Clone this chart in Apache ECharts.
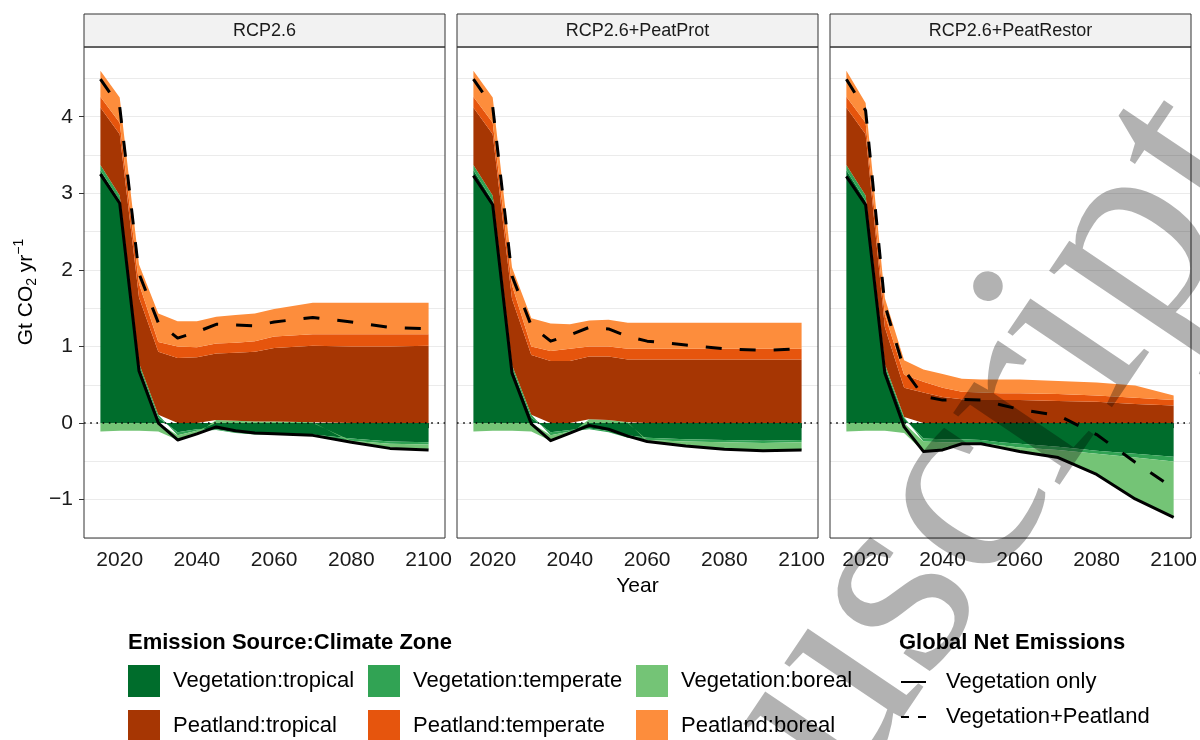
<!DOCTYPE html>
<html>
<head>
<meta charset="utf-8">
<script src="https://cdn.jsdelivr.net/npm/echarts@6/dist/echarts.min.js"></script>
<style>
html,body{margin:0;padding:0;background:#ffffff;}
#chart{width:1200px;height:740px;}
</style>
</head>
<body>
<div id="chart"></div>
<script>
// ---------------- data (Gt CO2 / yr) ----------------
const years = [2015, 2020, 2025, 2030, 2035, 2040, 2045, 2050, 2055, 2060, 2070, 2080, 2090, 2100];
const panelTitles = ['RCP2.6', 'RCP2.6+PeatProt', 'RCP2.6+PeatRestor'];
const layerNames = ['Vegetation:tropical', 'Vegetation:temperate', 'Vegetation:boreal',
                    'Peatland:tropical', 'Peatland:temperate', 'Peatland:boreal'];
const lineNames = ['Vegetation only', 'Vegetation+Peatland'];
const xTicks = [2020, 2040, 2060, 2080, 2100];
const yTicks = [-1, 0, 1, 2, 3, 4];

// Panel 1: RCP2.6
const vegTropical1  = [3.30, 2.90, 0.74, 0.07, -0.12, -0.08, -0.08, -0.12, -0.13, -0.13, -0.15, -0.20, -0.24, -0.25];
const vegTemperate1 = [0.07, 0.07, 0.04, 0.04, -0.04, -0.02, -0.01, -0.01, -0.02, -0.02, -0.02, -0.03, -0.03, -0.03];
const vegBoreal1    = [-0.11, -0.10, -0.10, -0.11, -0.06, -0.04, 0.04, 0.03, 0.02, 0.02, 0.01, -0.02, -0.05, -0.06];
const peatTropical1  = [0.75, 0.80, 0.86, 0.82, 0.85, 0.86, 0.87, 0.89, 0.91, 0.96, 1.00, 1.00, 1.00, 1.01];
const peatTemperate1 = [0.14, 0.15, 0.18, 0.13, 0.15, 0.13, 0.13, 0.13, 0.14, 0.15, 0.15, 0.16, 0.16, 0.15];
const peatBoreal1    = [0.34, 0.33, 0.25, 0.37, 0.33, 0.34, 0.35, 0.36, 0.36, 0.36, 0.41, 0.41, 0.41, 0.41];
const vegOnly1 = [3.25, 2.87, 0.68, 0.00, -0.22, -0.14, -0.05, -0.10, -0.13, -0.14, -0.16, -0.25, -0.33, -0.35];
const vegPeat1 = [4.49, 4.13, 1.95, 1.31, 1.11, 1.19, 1.29, 1.28, 1.27, 1.32, 1.38, 1.32, 1.25, 1.23];

// Panel 2: RCP2.6+PeatProt
const vegTropical2  = [3.30, 2.90, 0.72, 0.07, -0.12, -0.09, -0.07, -0.10, -0.16, -0.19, -0.21, -0.22, -0.23, -0.22];
const vegTemperate2 = [0.07, 0.07, 0.04, 0.04, -0.04, -0.02, -0.01, -0.02, -0.03, -0.03, -0.03, -0.03, -0.03, -0.03];
const vegBoreal2    = [-0.11, -0.10, -0.10, -0.11, -0.07, -0.03, 0.05, 0.04, 0.01, -0.02, -0.06, -0.09, -0.10, -0.10];
const peatTropical2  = [0.75, 0.80, 0.86, 0.78, 0.81, 0.81, 0.82, 0.83, 0.82, 0.83, 0.83, 0.83, 0.83, 0.83];
const peatTemperate2 = [0.14, 0.15, 0.18, 0.11, 0.13, 0.16, 0.13, 0.13, 0.14, 0.14, 0.14, 0.14, 0.14, 0.14];
const peatBoreal2    = [0.34, 0.33, 0.23, 0.37, 0.36, 0.32, 0.34, 0.35, 0.34, 0.34, 0.34, 0.34, 0.34, 0.34];
const vegOnly2 = [3.23, 2.85, 0.65, -0.01, -0.23, -0.13, -0.03, -0.08, -0.17, -0.24, -0.30, -0.34, -0.36, -0.35];
const vegPeat2 = [4.49, 4.13, 1.92, 1.27, 1.07, 1.15, 1.25, 1.23, 1.13, 1.07, 1.02, 0.97, 0.95, 0.97];

// Panel 3: RCP2.6+PeatRestor
const vegTropical3  = [3.30, 2.90, 0.73, 0.06, -0.20, -0.21, -0.21, -0.22, -0.25, -0.27, -0.31, -0.36, -0.40, -0.44];
const vegTemperate3 = [0.07, 0.07, 0.04, 0.02, -0.04, -0.04, -0.04, -0.04, -0.04, -0.05, -0.04, -0.04, -0.05, -0.06];
const vegBoreal3    = [-0.11, -0.10, -0.10, -0.13, -0.13, -0.10, -0.02, -0.01, -0.03, -0.05, -0.10, -0.27, -0.54, -0.73];
const peatTropical3  = [0.75, 0.80, 0.48, 0.38, 0.40, 0.34, 0.31, 0.30, 0.30, 0.30, 0.29, 0.28, 0.25, 0.23];
const peatTemperate3 = [0.14, 0.15, 0.16, 0.17, 0.14, 0.12, 0.10, 0.10, 0.09, 0.09, 0.09, 0.08, 0.08, 0.07];
const peatBoreal3    = [0.34, 0.26, 0.22, 0.19, 0.16, 0.18, 0.17, 0.17, 0.18, 0.18, 0.17, 0.17, 0.16, 0.06];
const vegOnly3 = [3.22, 2.85, 0.65, -0.05, -0.37, -0.35, -0.27, -0.27, -0.32, -0.37, -0.45, -0.67, -0.99, -1.23];
const vegPeat3 = [4.49, 4.08, 1.54, 0.70, 0.35, 0.30, 0.31, 0.30, 0.24, 0.18, 0.10, -0.15, -0.51, -0.85];

// ---------------- styling / layout ----------------
const layerColors = ['#006d2c', '#31a354', '#74c476', '#a63603', '#e6550d', '#fd8d3c'];
const FONT = '"Liberation Sans", Arial, Helvetica, sans-serif';
const panelLefts = [84, 457, 830];
const panelTop = 47, panelW = 361, panelH = 491;
const stripTop = 14, stripH = 33;

const panels = [
  { layers: [vegTropical1, vegTemperate1, vegBoreal1, peatTropical1, peatTemperate1, peatBoreal1], veg: vegOnly1, net: vegPeat1 },
  { layers: [vegTropical2, vegTemperate2, vegBoreal2, peatTropical2, peatTemperate2, peatBoreal2], veg: vegOnly2, net: vegPeat2 },
  { layers: [vegTropical3, vegTemperate3, vegBoreal3, peatTropical3, peatTemperate3, peatBoreal3], veg: vegOnly3, net: vegPeat3 }
];

const grid = [], xAxis = [], yAxis = [], series = [], graphic = [];

panels.forEach((p, i) => {
  grid.push({ left: panelLefts[i], top: panelTop, width: panelW, height: panelH, containLabel: false });
  xAxis.push({
    gridIndex: i, type: 'value', min: 2010.75, max: 2104.25,
    axisLine: { show: false }, splitLine: { show: false },
    axisTick: { show: true, length: 5, customValues: xTicks, lineStyle: { color: '#333333', width: 1 } },
    axisLabel: { customValues: xTicks, margin: 12, fontSize: 21, color: '#1a1a1a', fontFamily: FONT,
      formatter: v => String(Math.round(v)) },
    name: i === 1 ? 'Year' : '', nameLocation: 'middle', nameGap: 37,
    nameTextStyle: { fontSize: 21, color: '#000000', fontFamily: FONT }
  });
  // main value axis
  yAxis.push({
    gridIndex: i, type: 'value', min: -1.5, max: 4.91,
    axisLine: { show: false }, splitLine: { show: false },
    axisTick: { show: i === 0, length: 5, customValues: yTicks, lineStyle: { color: '#333333', width: 1 } },
    axisLabel: { show: i === 0, customValues: yTicks, margin: 11, fontSize: 21, color: '#1a1a1a', fontFamily: FONT,
      formatter: v => (v < 0 ? '\u2212' + Math.abs(v) : String(v)) }
  });
  // grid-line axis (major + minor horizontal lines)
  yAxis.push({
    gridIndex: i, type: 'value', min: -1.5, max: 4.91, interval: 0.5,
    axisLine: { show: false }, axisTick: { show: false }, axisLabel: { show: false },
    splitLine: { show: true, lineStyle: { color: '#ebebeb', width: 1 } }
  });

  p.layers.forEach((vals, j) => {
    const s = {
      type: 'line', name: layerNames[j], xAxisIndex: i, yAxisIndex: 2 * i,
      stack: 'panel' + i, stackStrategy: 'samesign',
      data: years.map((yr, k) => [vals[k], yr]),
      encode: { x: 1, y: 0 },
      symbol: 'none', showSymbol: false, color: layerColors[j],
      lineStyle: { width: 0 }, areaStyle: { color: layerColors[j], opacity: 1 },
      emphasis: { disabled: true }, silent: true, z: 2
    };
    if (j === layerNames.length - 1) {
      s.markLine = {
        silent: true, symbol: ['none', 'none'], label: { show: false }, z: 4,
        lineStyle: { color: '#000000', type: [1.6, 4.6], width: 1.6 },
        emphasis: { disabled: true },
        data: [{ yAxis: 0 }]
      };
    }
    series.push(s);
  });

  series.push({
    type: 'line', name: lineNames[0], xAxisIndex: i, yAxisIndex: 2 * i,
    data: years.map((yr, k) => [yr, p.veg[k]]),
    symbol: 'none', color: '#000000',
    lineStyle: { color: '#000000', width: 3, join: 'round' },
    emphasis: { disabled: true }, silent: true, z: 10
  });
  series.push({
    type: 'line', name: lineNames[1], xAxisIndex: i, yAxisIndex: 2 * i,
    data: years.map((yr, k) => [yr, p.net[k]]),
    symbol: 'none', color: '#000000',
    lineStyle: { color: '#000000', width: 3, type: [16, 18], join: 'round' },
    emphasis: { disabled: true }, silent: true, z: 10
  });

  // strip + panel border
  graphic.push({
    type: 'rect', silent: true, z: 100,
    shape: { x: panelLefts[i], y: stripTop, width: panelW, height: stripH },
    style: { fill: '#f2f2f2', stroke: '#333333', lineWidth: 1 }
  });
  graphic.push({
    type: 'text', silent: true, z: 101,
    style: { text: panelTitles[i], x: panelLefts[i] + panelW / 2, y: stripTop + stripH / 2 + 0.5,
      align: 'center', verticalAlign: 'middle', font: '18px ' + FONT, fill: '#1a1a1a' }
  });
  graphic.push({
    type: 'rect', silent: true, z: 100,
    shape: { x: panelLefts[i], y: panelTop, width: panelW, height: panelH },
    style: { fill: 'rgba(0,0,0,0)', stroke: '#333333', lineWidth: 1 }
  });
});

// axis title (y)
graphic.push({
  type: 'text', silent: true, z: 101, x: 26, y: 292, rotation: Math.PI / 2,
  style: {
    text: 'Gt CO{sub|2} yr{sup|\u22121}', align: 'center', verticalAlign: 'middle',
    font: '21px ' + FONT, fill: '#000000', lineHeight: 27,
    rich: {
      sub: { fontSize: 14, fontFamily: FONT, verticalAlign: 'bottom', lineHeight: 15, fill: '#000000' },
      sup: { fontSize: 14, fontFamily: FONT, verticalAlign: 'top', lineHeight: 15, fill: '#000000' }
    }
  }
});

// legend titles
graphic.push({
  type: 'text', silent: true, z: 101,
  style: { text: 'Emission Source:Climate Zone', x: 128, y: 643, align: 'left', verticalAlign: 'middle',
    font: 'bold 22px ' + FONT, fill: '#000000' }
});
graphic.push({
  type: 'text', silent: true, z: 101,
  style: { text: 'Global Net Emissions', x: 899, y: 643, align: 'left', verticalAlign: 'middle',
    font: 'bold 22px ' + FONT, fill: '#000000' }
});

// watermark
graphic.push({
  type: 'text', silent: true, z: 300, x: 1213, y: 126, rotation: 56 * Math.PI / 180,
  style: { text: 'manuscript', align: 'right', verticalAlign: 'middle',
    font: '280px "Liberation Serif", "Times New Roman", serif', fill: 'rgba(0,0,0,0.30)' }
});

const areaLegendCommon = {
  orient: 'vertical', top: 665, height: 120, padding: 0, itemWidth: 32, itemHeight: 32, itemGap: 13,
  icon: 'rect', selectedMode: false, itemStyle: { borderWidth: 0 },
  textStyle: { fontSize: 22, color: '#000000', fontFamily: FONT, padding: [0, 0, 0, 8] }
};
const legend = [
  Object.assign({}, areaLegendCommon, { left: 128, data: [layerNames[0], layerNames[3]] }),
  Object.assign({}, areaLegendCommon, { left: 368, data: [layerNames[1], layerNames[4]] }),
  Object.assign({}, areaLegendCommon, { left: 636, data: [layerNames[2], layerNames[5]] }),
  {
    orient: 'vertical', left: 900, top: 671, height: 100, padding: 0, itemWidth: 25, itemHeight: 14, itemGap: 13,
    selectedMode: false,
    itemStyle: { opacity: 0, borderWidth: 0 },
    textStyle: { fontSize: 22, color: '#000000', fontFamily: FONT, padding: [0, 0, 0, 15] },
    data: [
      { name: lineNames[0], lineStyle: { width: 2, type: 'solid' } },
      { name: lineNames[1], lineStyle: { width: 2, type: [8, 9] } }
    ]
  }
];

const chart = echarts.init(document.getElementById('chart'), null, { renderer: 'canvas' });
chart.setOption({
  animation: false,
  backgroundColor: '#ffffff',
  textStyle: { fontFamily: FONT },
  grid, xAxis, yAxis, series, legend, graphic
});
</script>
</body>
</html>
